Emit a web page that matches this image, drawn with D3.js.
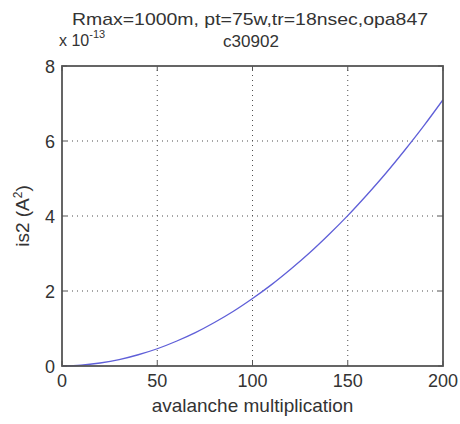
<!DOCTYPE html>
<html lang="en">
<head>
<meta charset="UTF-8">
<title>is2 vs avalanche multiplication</title>
<script src="https://d3js.org/d3.v7.min.js"></script>
<style>
  * { margin: 0; padding: 0; }
  body { background: #fff; }
  svg text { font-family: "Liberation Sans", Arial, sans-serif; fill: #333; }
</style>
</head>
<body>
<div id="chart"></div>
<script>
// values (y in units of 1e-13 A^2)
const multiplication = [0, 10, 20, 30, 40, 50, 60, 70, 80, 90, 100, 110, 120, 130, 140, 150, 160, 170, 180, 190, 200];
const is2 = [0, 0.02, 0.08, 0.17, 0.30, 0.46, 0.66, 0.89, 1.16, 1.46, 1.80, 2.17, 2.58, 3.02, 3.50, 4.01, 4.56, 5.14, 5.76, 6.41, 7.10];
const xTicks = [0, 50, 100, 150, 200];
const yTicks = [0, 2, 4, 6, 8];
const titleLines = ["Rmax=1000m, pt=75w,tr=18nsec,opa847", "c30902"];

const w = 460, h = 424;
const m = {left: 62, right: 17, top: 66, bottom: 58};

const svg = d3.select("#chart").append("svg")
  .attr("width", w).attr("height", h);

const x = d3.scaleLinear().domain([0, 200]).range([m.left, w - m.right]);
const y = d3.scaleLinear().domain([0, 8]).range([h - m.bottom, m.top]);

// grid
const grid = svg.append("g").attr("stroke", "#222").attr("stroke-width", 1)
  .attr("stroke-dasharray", "1,4").attr("opacity", 0.8);
grid.selectAll("line.gx").data(xTicks.slice(1, -1)).join("line")
  .attr("x1", d => x(d)).attr("x2", d => x(d))
  .attr("y1", y(0)).attr("y2", y(8));
grid.selectAll("line.gy").data(yTicks.slice(1, -1)).join("line")
  .attr("x1", x(0)).attr("x2", x(200))
  .attr("y1", d => y(d)).attr("y2", d => y(d));

// curve
const line = d3.line().x((d, i) => x(multiplication[i])).y(d => y(d)).curve(d3.curveMonotoneX);
svg.append("path").datum(is2)
  .attr("d", line).attr("fill", "none")
  .attr("stroke", "#5f5fd8").attr("stroke-width", 1.3);

// frame and inward ticks
const frame = svg.append("g").attr("stroke", "#555").attr("fill", "none");
frame.append("rect").attr("x", x(0)).attr("y", y(8))
  .attr("width", x(200) - x(0)).attr("height", y(0) - y(8)).attr("stroke-width", 1.8);
xTicks.forEach(t => {
  frame.append("line").attr("x1", x(t)).attr("x2", x(t)).attr("y1", y(0)).attr("y2", y(0) - 5);
  frame.append("line").attr("x1", x(t)).attr("x2", x(t)).attr("y1", y(8)).attr("y2", y(8) + 5);
});
yTicks.forEach(t => {
  frame.append("line").attr("x1", x(0)).attr("x2", x(0) + 5).attr("y1", y(t)).attr("y2", y(t));
  frame.append("line").attr("x1", x(200)).attr("x2", x(200) - 5).attr("y1", y(t)).attr("y2", y(t));
});

// tick labels
svg.selectAll("text.xt").data(xTicks).join("text")
  .attr("x", d => x(d)).attr("y", y(0) + 21)
  .attr("text-anchor", "middle").attr("font-size", 18).text(d => d);
svg.selectAll("text.yt").data(yTicks).join("text")
  .attr("x", x(0) - 7).attr("y", d => y(d) + 7)
  .attr("text-anchor", "end").attr("font-size", 18).text(d => d);

// exponent
const ex = svg.append("text").attr("x", x(0) - 3).attr("y", 46).attr("font-size", 16);
ex.append("tspan").text("x 10");
ex.append("tspan").attr("dy", -8).attr("font-size", 11).text("-13");

// titles
svg.append("text").attr("x", 250).attr("y", 25)
  .attr("text-anchor", "middle").attr("font-size", 17)
  .attr("textLength", 356).attr("lengthAdjust", "spacingAndGlyphs").text(titleLines[0]);
svg.append("text").attr("x", 251).attr("y", 47)
  .attr("text-anchor", "middle").attr("font-size", 17).text(titleLines[1]);

// axis labels
svg.append("text").attr("x", (x(0) + x(200)) / 2).attr("y", 412)
  .attr("text-anchor", "middle").attr("font-size", 19).text("avalanche multiplication");

const yl = svg.append("text").attr("transform", `translate(29,${(y(0) + y(8)) / 2}) rotate(-90)`)
  .attr("text-anchor", "middle").attr("font-size", 19);
yl.append("tspan").text("is2 (A");
yl.append("tspan").attr("dy", -7).attr("font-size", 12).text("2");
yl.append("tspan").attr("dy", 7).text(")");
</script>
</body>
</html>
